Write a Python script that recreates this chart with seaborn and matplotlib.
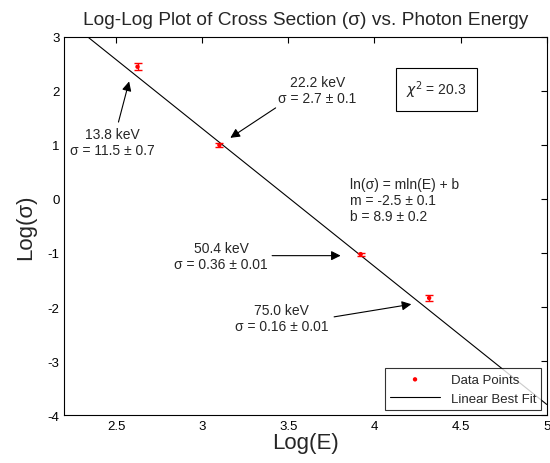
import numpy as np
import pandas as pd
import matplotlib
matplotlib.use("Agg")
import matplotlib.pyplot as plt
import seaborn as sns

# photon energies (keV) and measured cross sections
energy_kev = [13.8, 22.2, 50.4, 75.0]
sigma = [11.5, 2.7, 0.36, 0.16]
sigma_err = [0.7, 0.1, 0.01, 0.01]
labels = ["13.8 keV\nσ = 11.5 ± 0.7", "22.2 keV\nσ = 2.7 ± 0.1",
          "50.4 keV\nσ = 0.36 ± 0.01", "75.0 keV\nσ = 0.16 ± 0.01"]
# label text positions (data coords)
label_xy = [(2.48, 1.05), (3.67, 2.01), (3.11, -1.06), (3.46, -2.2)]
arrow_tail = [(2.51, 1.37), (3.44, 1.71), (3.39, -1.05), (3.75, -2.19)]
arrow_tip = [(2.58, 2.22), (3.15, 1.10), (3.82, -1.05), (4.23, -1.94)]

fit_m = -2.55
fit_b = 8.95
chi2 = 20.3

df = pd.DataFrame({"logE": np.log(energy_kev), "logS": np.log(sigma),
                   "err": np.array(sigma_err) / np.array(sigma)})

sns.set_style("white")
plt.rcParams["font.family"] = ["Liberation Sans", "DejaVu Sans"]
plt.rcParams["axes.unicode_minus"] = False

fig = plt.figure(figsize=(5.5, 4.64), dpi=100)
ax = fig.add_axes([0.117, 0.103, 0.877, 0.816])

xfit = np.array([2.2, 5.0])
fit_df = pd.DataFrame({"x": xfit, "y": fit_m * xfit + fit_b})
sns.lineplot(data=fit_df, x="x", y="y", color="black", lw=0.8, ax=ax,
             label="Linear Best Fit", zorder=2)
ax.errorbar(df["logE"], df["logS"], yerr=df["err"], fmt="none",
            ecolor="red", elinewidth=1, capsize=3, capthick=1, zorder=3)
sns.scatterplot(data=df, x="logE", y="logS", color="red", s=10,
                edgecolor="none", ax=ax, label="Data Points", zorder=4)

for txt, xy, t0, t1 in zip(labels, label_xy, arrow_tail, arrow_tip):
    ax.text(xy[0], xy[1], txt, ha="center", va="center", fontsize=10,
            linespacing=1.15)
    ax.annotate("", xy=t1, xytext=t0,
                arrowprops=dict(arrowstyle="-|>", color="black", lw=0.8,
                                mutation_scale=14))

ax.text(3.86, -0.02, "ln(σ) = mln(E) + b\nm = -2.5 ± 0.1\nb = 8.9 ± 0.2",
        ha="left", va="center", fontsize=10, linespacing=1.15)
ax.text(4.36, 2.02, r"$\chi^2$ = %.1f" % chi2, ha="center", va="center",
        fontsize=10,
        bbox=dict(boxstyle="square,pad=0.75", fc="white", ec="black", lw=0.8))

ax.set_xlim(2.2, 5)
ax.set_ylim(-4, 3)
ax.set_xticks([2.5, 3, 3.5, 4, 4.5, 5])
ax.set_xticklabels(["2.5", "3", "3.5", "4", "4.5", "5"])
ax.set_yticks(range(-4, 4))
ax.tick_params(direction="in", top=True, right=True, length=4, width=0.8,
               labelsize=9.5, colors="black")
for s in ax.spines.values():
    s.set_color("black")
    s.set_linewidth(0.8)

ax.set_title("Log-Log Plot of Cross Section (σ) vs. Photon Energy",
             fontsize=13.8, pad=9)
ax.set_xlabel("Log(E)", fontsize=16, labelpad=0)
ax.set_ylabel("Log(σ)", fontsize=16, labelpad=8)

h, l = ax.get_legend_handles_labels()
order = [l.index("Data Points"), l.index("Linear Best Fit")]
leg = ax.legend([h[i] for i in order], [l[i] for i in order],
                loc="lower right", fontsize=9.5, frameon=True, fancybox=False,
                edgecolor="black", borderaxespad=0.4, handlelength=3.8)
leg.get_frame().set_linewidth(0.8)

fig.savefig("out.png", dpi=100)
